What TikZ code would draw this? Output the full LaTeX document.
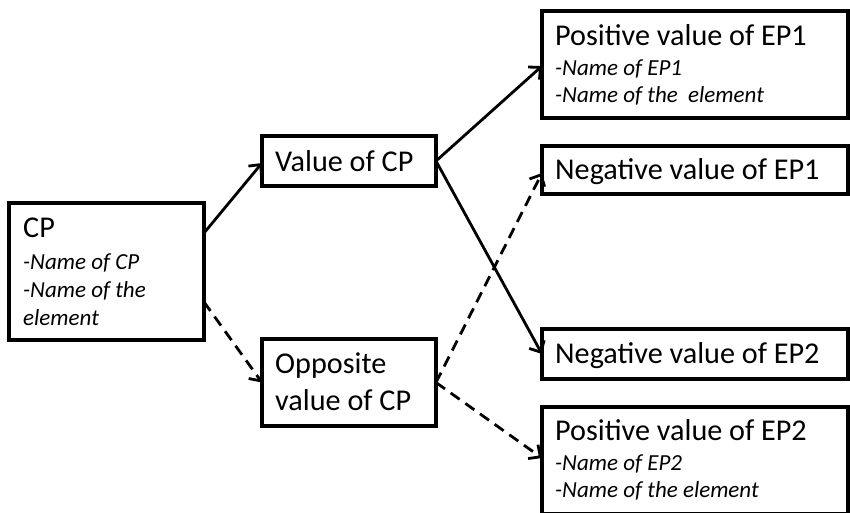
\documentclass[tikz,border=0pt]{standalone}
\usepackage{fontspec}
\setmainfont{Carlito}
\usetikzlibrary{arrows.meta}
\begin{document}
\begin{tikzpicture}[x=1pt,y=-1pt,
  box/.style={draw,line width=3.2pt,inner sep=0pt,outer sep=0pt,anchor=north west},
  main/.style={anchor=base west,inner sep=0pt,font=\fontsize{30.2}{36}\selectfont},
  sub/.style={anchor=base west,inner sep=0pt,font=\fontsize{23}{27}\selectfont\itshape},
  link/.style={line width=2.8pt,-{Straight Barb[length=9pt,width=17pt,line width=2.8pt]}},
  alt/.style={link,dash pattern=on 11pt off 7pt}]
\useasboundingbox (0,0) rectangle (850,512);

% boxes
\node[box,minimum width=195pt,minimum height=137pt] (cp) at (9,203) {};
\node[box,minimum width=174pt,minimum height=50pt] (val) at (262,136) {};
\node[box,minimum width=174pt,minimum height=87pt] (opp) at (262,339) {};
\node[box,minimum width=306pt,minimum height=107pt] (p1) at (542,11) {};
\node[box,minimum width=306pt,minimum height=48pt] (n1) at (542,146) {};
\node[box,minimum width=306pt,minimum height=50pt] (n2) at (542,329) {};
\node[box,minimum width=306pt,minimum height=107pt] (p2) at (542,407) {};

% texts
\node[main] (cpt) at (23,237) {CP};
\node[sub] (cps1) at (23,269) {-Name of CP};
\node[sub] (cps2) at (23,297) {-Name of the};
\node[sub] (cps3) at (23,325) {element};
\node[main] (valt) at (275,171) {Value of CP};
\node[main] (oppt1) at (275,373) {Opposite};
\node[main] (oppt2) at (275,410) {value of CP};
\node[main] (p1t) at (555,45) {Positive value of EP1};
\node[sub] (p1s1) at (555,75) {-Name of EP1};
\node[sub] (p1s2) at (555,102) {-Name of the\ \ element};
\node[main] (n1t) at (555,179) {Negative value of EP1};
\node[main] (n2t) at (555,363) {Negative value of EP2};
\node[main] (p2t) at (555,440) {Positive value of EP2};
\node[sub] (p2s1) at (555,470) {-Name of EP2};
\node[sub] (p2s2) at (555,497) {-Name of the element};

% connectors
\draw[link] ([yshift=38.5pt]cp.east) -- ([yshift=-2pt]val.west);
\draw[alt] ([yshift=-30.5pt]cp.east) -- (opp.west);
\draw[link] (val.east) -- ([yshift=-1.5pt]p1.west);
\draw[link] (val.east) -- (n2.west);
\draw[alt] (opp.east) -- ([yshift=-3pt]n1.west);
\draw[alt] (opp.east) -- ([yshift=2.5pt]p2.west);
\end{tikzpicture}
\end{document}
